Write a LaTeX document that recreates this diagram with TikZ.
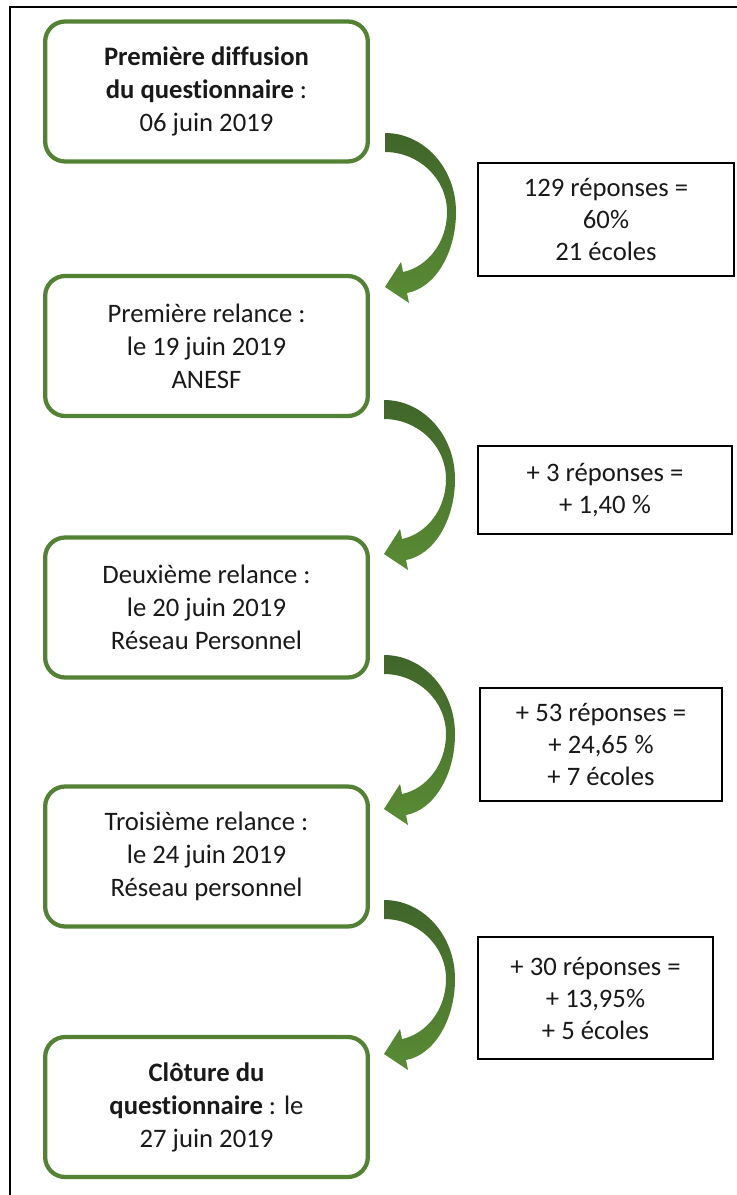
\documentclass[tikz,border=0pt]{standalone}
\usepackage{fontspec}
\setmainfont{Carlito}[RawFeature={-liga;-clig;-dlig;-calt}]
\definecolor{boxgreen}{HTML}{548235}
\definecolor{arrtop}{HTML}{40652A}
\definecolor{arrbot}{HTML}{5A8C34}
\tikzset{
  stage/.style={draw=boxgreen, line width=3.2pt, rounded corners=15pt,
    minimum width=242pt, minimum height=105pt, align=center, inner sep=0pt,
    font=\fontsize{20}{24.75}\selectfont, text=black!90},
  infobox/.style={draw=black, line width=1.4pt, align=center, inner sep=0pt,
    font=\fontsize{20}{24}\selectfont, text=black!90},
  curvarrow/.pic={
    \shade[top color=arrtop, bottom color=arrbot]
      (0,0) .. controls (39,0) and (71,35) .. (71,79)
      .. controls (71,120) and (50,155) .. (22,160)
      -- (24,170) -- (0,154) -- (16,129) -- (18,139)
      .. controls (42,134) and (62,110) .. (62,79)
      .. controls (62,45) and (33,19) .. (0,19) -- cycle;
  }
}
\begin{document}
\begin{tikzpicture}[x=0.75pt,y=-0.75pt]
\useasboundingbox (0,0) rectangle (737,1195);
% outer frame (open to the right and bottom)
\draw[line width=1.5pt] (10,1195) -- (10,7) -- (737,7);

% stage boxes
\node[stage] (s1) at (206.5,91.5) {\textbf{Première diffusion}\\\textbf{du questionnaire} :\\06 juin 2019};
\node[stage] (s2) at (206.5,346) {Première relance :\\le 19 juin 2019\\ANESF};
\node[stage] (s3) at (206.5,607.5) {Deuxième relance :\\le 20 juin 2019\\Réseau Personnel};
\node[stage] (s4) at (206.5,856.5) {Troisième relance :\\le 24 juin 2019\\Réseau personnel};
\node[stage] (s5) at (206.5,1107) {\textbf{Clôture du}\\\textbf{questionnaire} : le\\27 juin 2019};

% info boxes
\node[infobox, minimum width=192pt, minimum height=84.75pt] (r1) at (606,219.5) {129 réponses =\\60\%\\21 écoles};
\node[infobox, minimum width=190.5pt, minimum height=66pt] (r2) at (605,490) {+ 3 réponses =\\+ 1,40 \%};
\node[infobox, minimum width=181.5pt, minimum height=84.75pt] (r3) at (601,744.5) {+ 53 réponses =\\+ 24,65 \%\\+ 7 écoles};
\node[infobox, minimum width=176.25pt, minimum height=91.5pt] (r4) at (595.5,998) {+ 30 réponses =\\+ 13,95\%\\+ 5 écoles};

% curved arrows
\coordinate (a1) at (385,133);
\coordinate (a2) at (384,400);
\coordinate (a3) at (384,655);
\coordinate (a4) at (384,900);
\pic at (a1) {curvarrow};
\pic at (a2) {curvarrow};
\pic at (a3) {curvarrow};
\pic at (a4) {curvarrow};
\end{tikzpicture}
\end{document}
